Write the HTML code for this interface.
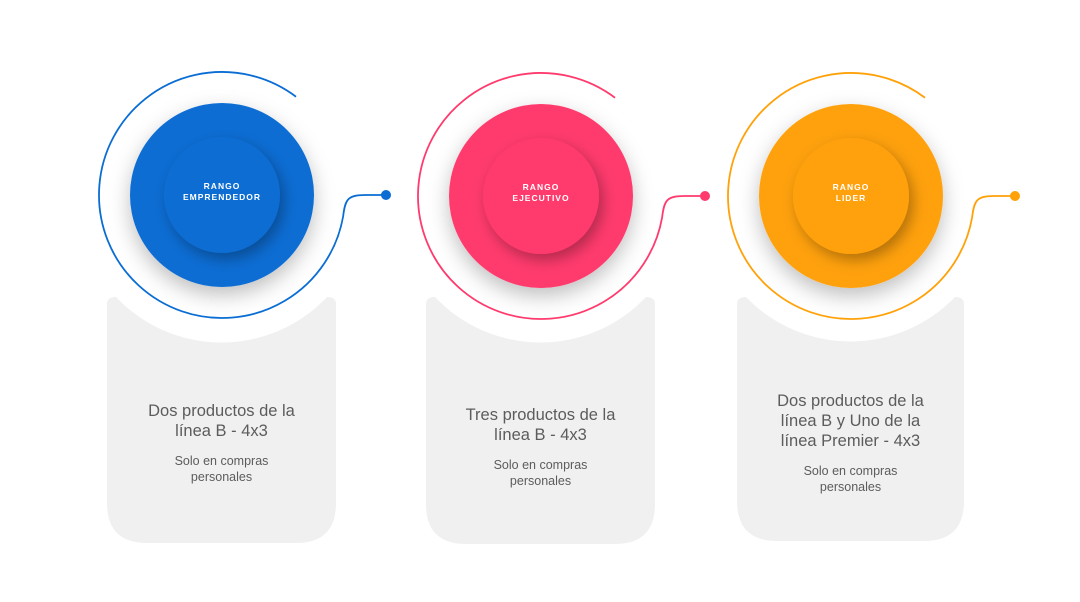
<!DOCTYPE html>
<html><head><meta charset="utf-8"><style>
body{margin:0;background:#fff;width:1080px;height:602px;overflow:hidden}
svg{display:block}
text{font-family:"Liberation Sans",sans-serif}
</style></head><body>
<svg width="1080" height="602" viewBox="0 0 1080 602">
<defs>
<filter id="sh" x="-50%" y="-50%" width="200%" height="200%"><feDropShadow dx="0" dy="8" stdDeviation="10" flood-color="#000" flood-opacity="0.25"/></filter>
<filter id="sh2" x="-50%" y="-50%" width="200%" height="200%"><feDropShadow dx="4" dy="6" stdDeviation="7" flood-color="#000" flood-opacity="0.3"/></filter>
</defs>
<g id="groups"></g>
</svg>
<script>
const cx=[222,541,851];
const cy=[195,196,196];
const colors=['#0a6dd3','#ff3a6d','#ffa109'];
const labels=[['RANGO','EMPRENDEDOR'],['RANGO','EJECUTIVO'],['RANGO','LIDER']];
const heads=[['Dos productos de la','línea B - 4x3'],['Tres productos de la','línea B - 4x3'],['Dos productos de la','línea B  y Uno de la','línea Premier - 4x3']];
const headY=[405,409,395];
const cardL=[107,426,737],cardR=[336,655,964],cardB=[543,544,541];
const ns='http://www.w3.org/2000/svg';
const g=document.getElementById('groups');
function mk(t,a,p){const e=document.createElementNS(ns,t);for(const k in a)e.setAttribute(k,a[k]);(p||g).appendChild(e);return e;}
for(let i=0;i<3;i++){
 const x=cx[i],y=cy[i],c=colors[i],L=cardL[i],R=cardR[i],B=cardB[i];
 const gr=mk('g',{});
 
 
 const card=mk('path',{d:`M${L},${B-40} L${L},304 Q${L},297 ${L+9},297 A145 145 0 0 0 ${R-9},297 Q${R},297 ${R},304 L${R},${B-40} Q${R},${B} ${R-40},${B} L${L+40},${B} Q${L},${B} ${L},${B-40} Z`,fill:'#f0f0f0'},gr);
 
 
 const r=123,a0=-53*Math.PI/180,a1=10*Math.PI/180;
 const sx=x+r*Math.cos(a0),sy=y+r*Math.sin(a0),ex=x+r*Math.cos(a1),ey=y+r*Math.sin(a1);
 const ring=mk('path',{d:`M${sx},${sy} A${r} ${r} 0 1 0 ${ex},${ey} C${ex+2},${y+4} ${ex+5},${y} ${ex+22},${y} L${x+164},${y}`,fill:'none',stroke:c,'stroke-width':1.8},gr);
 
 
 const dot=mk('circle',{cx:x+164,cy:y,r:5,fill:c},gr);
 
 
 const big=mk('circle',{cx:x,cy:y,r:92,fill:c,filter:'url(#sh)'},gr);
 
 
 const inner=mk('circle',{cx:x,cy:y,r:58,fill:c,filter:'url(#sh2)'},gr);
 
 
 labels[i].forEach((s,j)=>{const t=mk('text',{x:x,y:y-6+j*11,'text-anchor':'middle',fill:'#fff','font-size':'8.5','font-weight':'bold','letter-spacing':'1'},gr);t.textContent=s;
  
  });
 const mid=(L+R)/2;
 heads[i].forEach((s,j)=>{const t=mk('text',{x:mid,y:headY[i]+11+j*20,'text-anchor':'middle',fill:'#5c5c5c','font-size':'16.5'},gr);t.textContent=s;
  
  });
 const sy0=headY[i]+heads[i].length*20+20;
 ['Solo en compras','personales'].forEach((s,j)=>{const t=mk('text',{x:mid,y:sy0+j*16,'text-anchor':'middle',fill:'#5c5c5c','font-size':'12.5'},gr);t.textContent=s;
  
  });
}
</script>
</body></html>
